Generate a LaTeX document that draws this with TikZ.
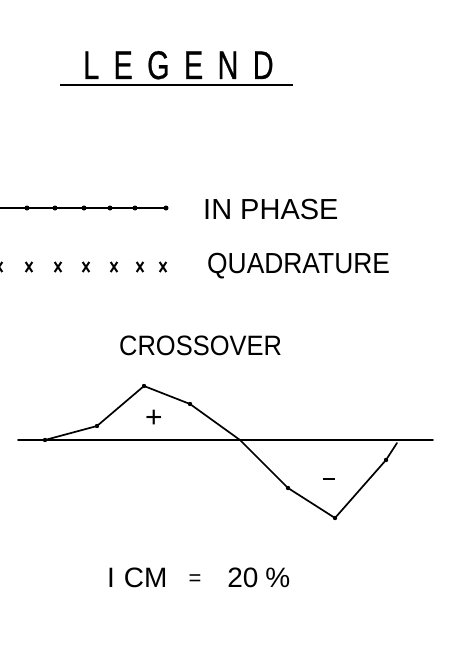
\documentclass[tikz,border=0pt]{standalone}
\usepackage{fontspec}
\setmainfont{Liberation Sans}
\newfontfamily\narrowfont[FakeStretch=0.91]{Liberation Sans}
\newfontfamily\titlefont[FakeStretch=0.72,LetterSpace=36,FakeBold=0.6]{Liberation Sans}
\begin{document}
\begin{tikzpicture}[x=1pt,y=-1pt,
  ink/.style={line width=1.7pt, line join=round, line cap=round},
  dotmark/.style={circle, fill, inner sep=0pt, minimum size=5pt},
  smalldot/.style={circle, fill, inner sep=0pt, minimum size=4.4pt},
  lbl/.style={inner sep=0pt, font=\fontsize{29}{29}\selectfont},
  nlbl/.style={inner sep=0pt, font=\fontsize{29}{29}\selectfont\narrowfont},
  xmark/.style={line width=2pt}]
\useasboundingbox (0,0) rectangle (451,647);

% title
\node[inner sep=0pt, anchor=base west, font=\fontsize{40}{40}\selectfont\titlefont] (title) at (83,79) {LEGEND};
\coordinate (ulA) at (60,85);
\coordinate (ulB) at (293,85);
\draw[line width=2.8pt] (ulA) -- (ulB);

% in phase
\coordinate (ip0) at (0,208);
\coordinate (ip6) at (166,208);
\draw[ink] (ip0) -- (ip6);
\foreach \xx [count=\i] in {27,55,84,110,135,166}
  \node[dotmark] (ipd\i) at (\xx,208) {};
\node[lbl, anchor=base west] (inphase) at (203,219) {IN PHASE};

% quadrature
\foreach \xx [count=\i] in {-1,29,58,86,114,140,163}
  \draw[xmark] (\xx-3.3,262) -- (\xx+3.3,272) (\xx+3.3,262) -- (\xx-3.3,272);
\node[nlbl, anchor=base west] (quad) at (207,273) {QUADRATURE};

% crossover
\node[inner sep=0pt, anchor=base west, font=\fontsize{28}{28}\selectfont\narrowfont] (cross) at (119,355) {CROSSOVER};
\coordinate (axA) at (18,440);
\coordinate (axB) at (433,440);
\draw[ink] (axA) -- (axB);
\coordinate (c1) at (45,440);
\coordinate (c2) at (97,426);
\coordinate (c3) at (144,386);
\coordinate (c4) at (190,404);
\coordinate (c5) at (240,440);
\coordinate (c6) at (288,488);
\coordinate (c7) at (335,518);
\coordinate (c8) at (386,460);
\coordinate (c9) at (397,443);
\draw[ink] (c1) -- (c2) -- (c3) -- (c4) -- (c5) -- (c6) -- (c7) -- (c8) -- (c9);
\foreach \p in {c1,c2,c3,c4,c6,c7,c8}
  \node[smalldot] at (\p) {};
\node[inner sep=0pt, font=\fontsize{30}{30}\selectfont] (plus) at (154,419) {+};
\coordinate (mA) at (323,479);
\coordinate (mB) at (335,479);
\draw[line width=1.7pt] (mA) -- (mB);

% scale
\node[inner sep=0pt, anchor=base west, font=\fontsize{28}{28}\selectfont] (scale) at (107,587) {I\hspace{9pt}CM\hspace{21pt}{\fontsize{22}{22}\selectfont\raisebox{1.5pt}{=}}\hspace{26pt}20\hspace{7pt}\%};
\end{tikzpicture}
\end{document}
